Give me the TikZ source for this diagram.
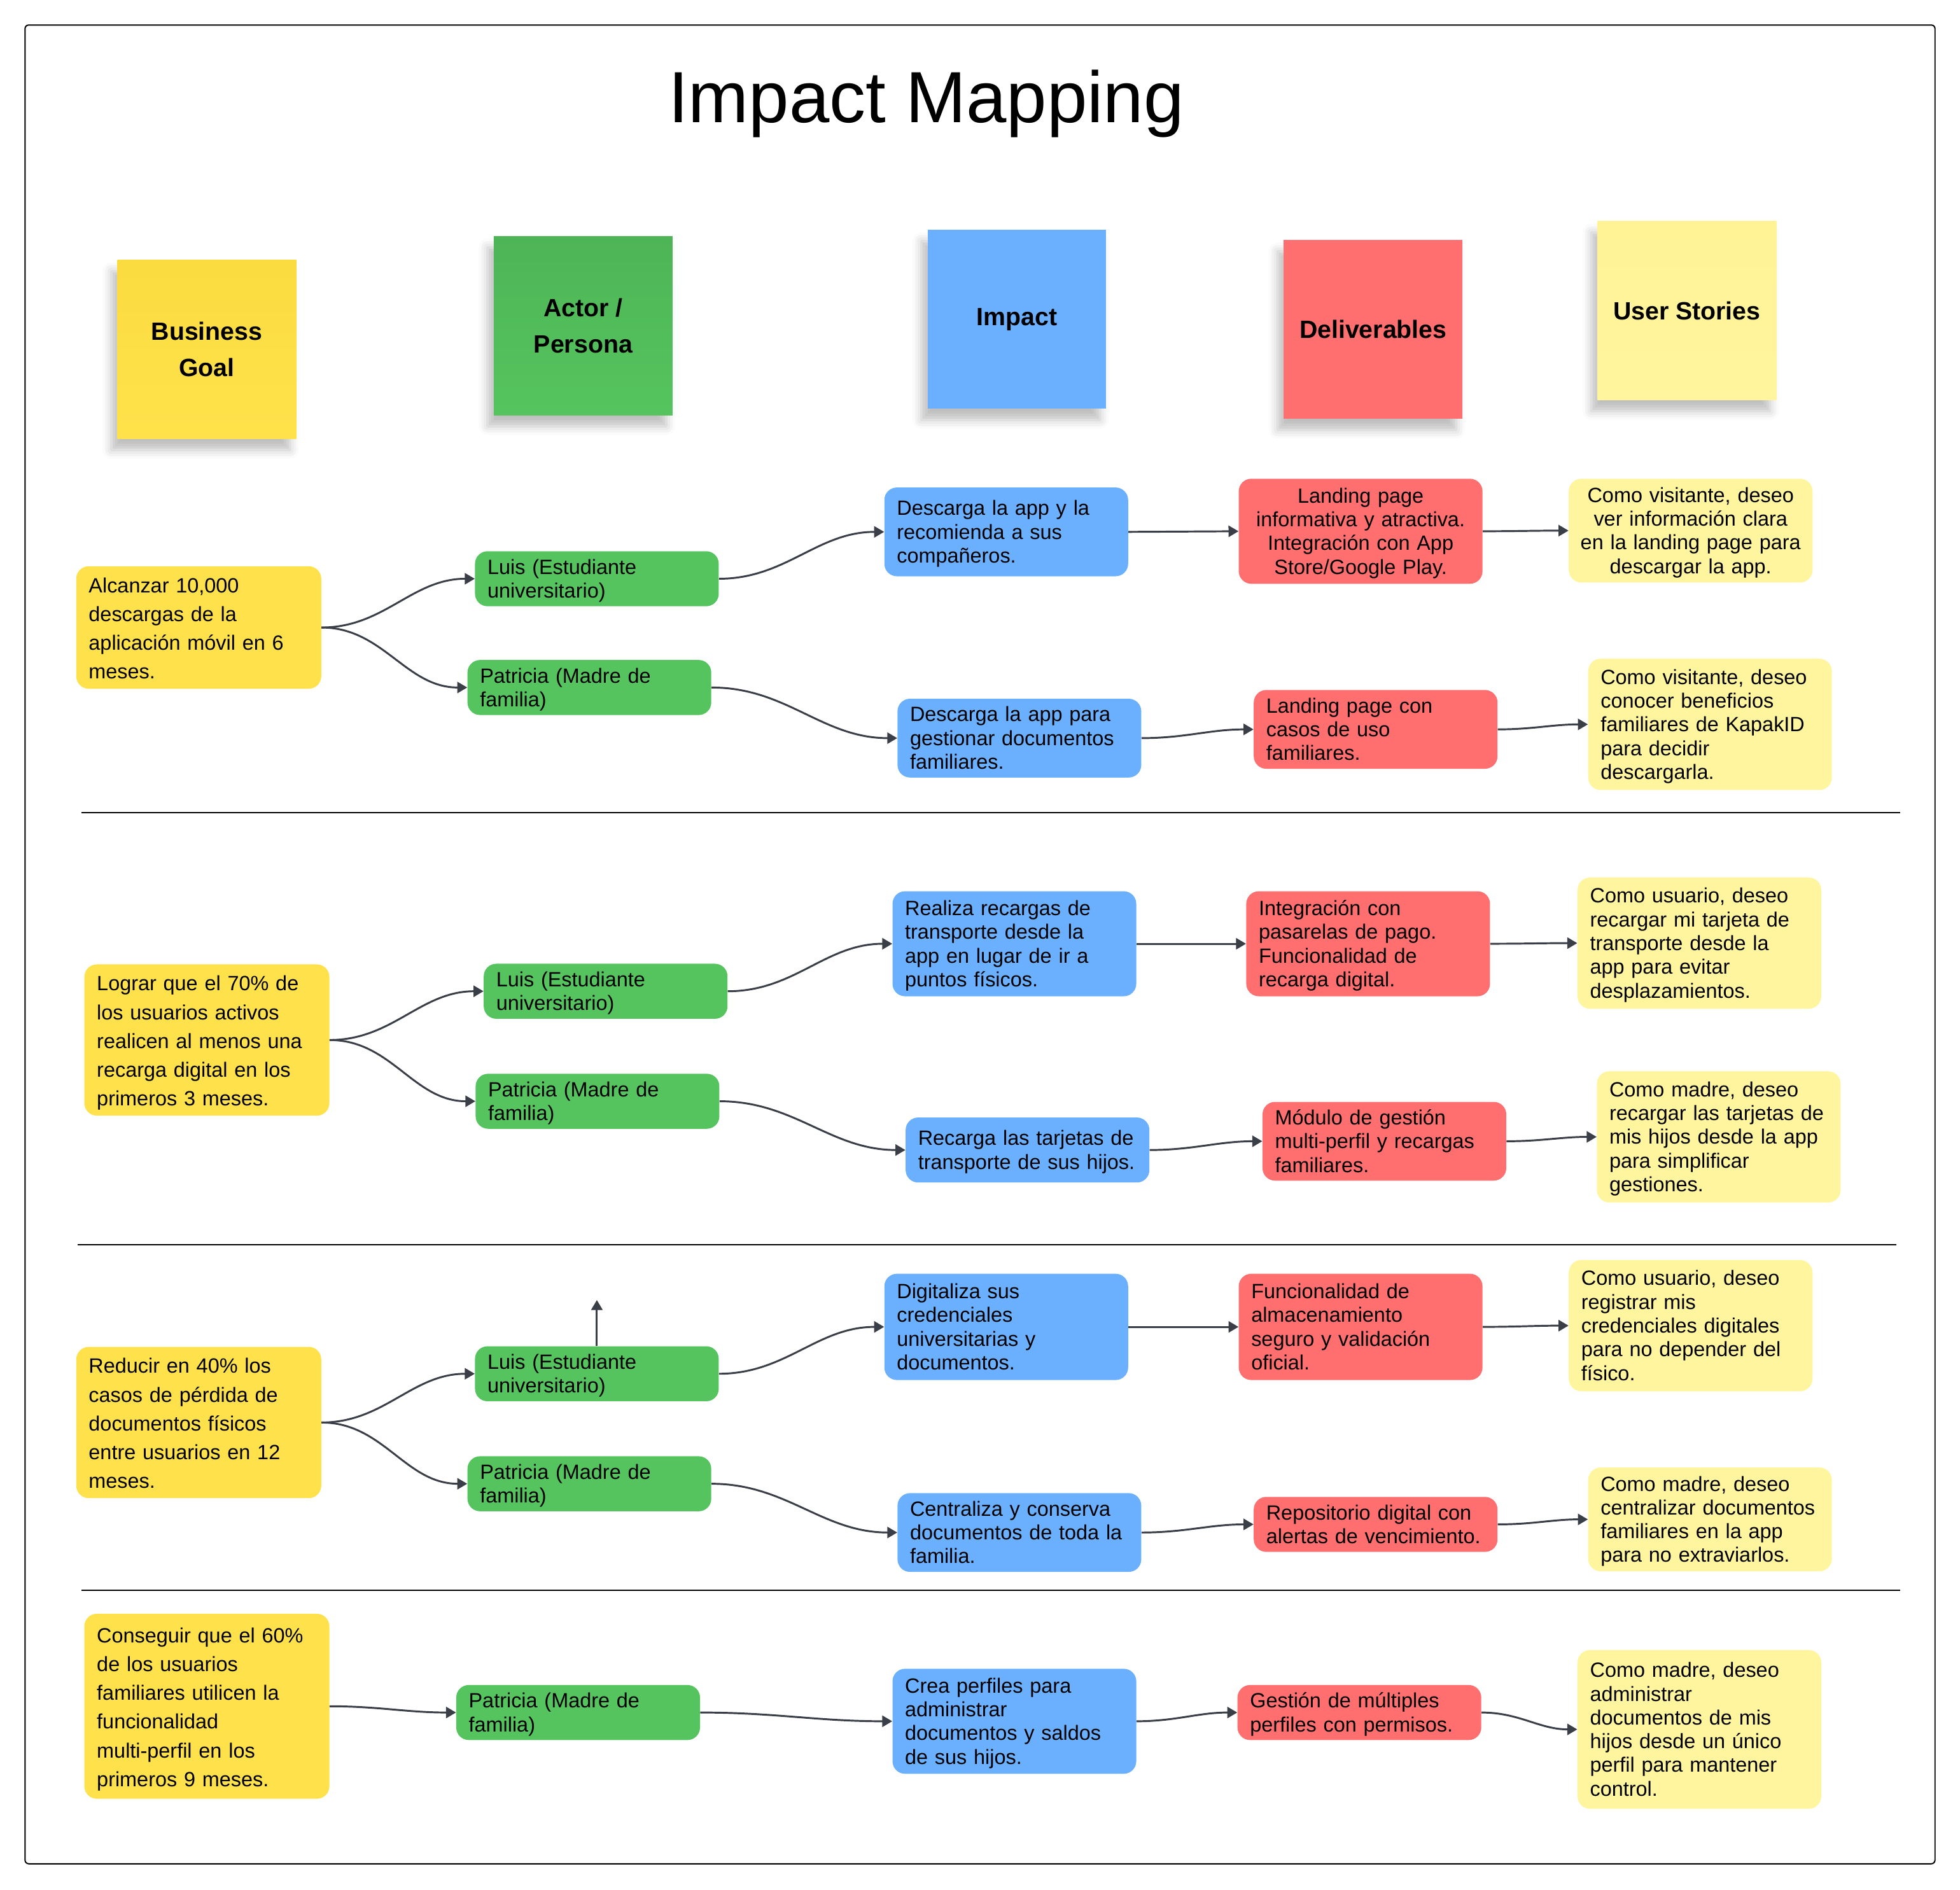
\documentclass[tikz,border=0pt]{standalone}
\usepackage{fontspec}
\setmainfont{Liberation Sans}
\usetikzlibrary{arrows.meta,shadows.blur}

\definecolor{goalc}{HTML}{FFE14B}
\definecolor{goaltop}{HTML}{FADC40}
\definecolor{actc}{HTML}{55C45E}
\definecolor{impc}{HTML}{6BB0FF}
\definecolor{delc}{HTML}{FF6F6F}
\definecolor{usc}{HTML}{FFF59E}
\definecolor{arrc}{HTML}{3A3E47}

\begin{document}
\begin{tikzpicture}
  [
   x=1pt, y=-1pt,
   ar/.style={-{Triangle[length=8pt,width=9pt]},line width=1.5pt,draw=arrc},
   sticky/.style={rectangle,minimum size=143pt,inner sep=0pt,align=center,
     font=\fontsize{20}{29}\selectfont\bfseries,
     blur shadow={shadow xshift=-5pt,shadow yshift=-9pt,shadow opacity=25,shadow blur radius=7pt}},
   gl/.style={rectangle,rounded corners=10pt,fill=goalc,text width=176pt,inner xsep=10pt,inner ysep=3pt,align=left,
     font=\fontsize{16.5}{23}\selectfont,execute at begin node=\rule{0pt}{18.1pt},execute at end node=\rule[-4.9pt]{0pt}{4.9pt}},
   ac/.style={rectangle,rounded corners=10pt,fill=actc,text width=175pt,inner xsep=10pt,inner ysep=3pt,align=left,
     font=\fontsize{16.5}{19}\selectfont,execute at begin node=\rule{0pt}{15.3pt},execute at end node=\rule[-3.7pt]{0pt}{3.7pt}},
   im/.style={rectangle,rounded corners=10pt,fill=impc,text width=175pt,inner xsep=10pt,inner ysep=3pt,align=left,
     font=\fontsize{16.5}{19}\selectfont,execute at begin node=\rule{0pt}{15.3pt},execute at end node=\rule[-3.7pt]{0pt}{3.7pt}},
   dl/.style={rectangle,rounded corners=10pt,fill=delc,text width=175pt,inner xsep=10pt,inner ysep=3pt,align=left,
     font=\fontsize{16.5}{19}\selectfont,execute at begin node=\rule{0pt}{15.3pt},execute at end node=\rule[-3.7pt]{0pt}{3.7pt}},
   us/.style={rectangle,rounded corners=10pt,fill=usc,text width=175pt,inner xsep=10pt,inner ysep=3pt,align=left,
     font=\fontsize{16.5}{19}\selectfont,execute at begin node=\rule{0pt}{15.3pt},execute at end node=\rule[-3.7pt]{0pt}{3.7pt}}
  ]
   \useasboundingbox (0,0) rectangle (1568,1511.5);
   \draw[line width=1pt,rounded corners=3pt] (20,20) rectangle (1548,1491);

   \node (title) at (741,83) {\fontsize{58}{62}\selectfont Impact Mapping};

   % column headers
   \node[sticky,top color=goaltop,bottom color=goalc] (hg) at (165.5,279.5) {Business\\Goal};
   \node[sticky,top color=actc!92!black,bottom color=actc] (ha) at (466.5,260.5) {Actor /\\Persona};
   \node[sticky,fill=impc] (hi) at (813.5,255.5) {Impact};
   \node[sticky,fill=delc] (hd) at (1098.5,263.5) {Deliverables};
   \node[sticky,top color=usc!90!goalc,bottom color=usc] (hu) at (1349.5,248.5) {User Stories};

   \foreach \ya/\xa/\xb in {650/65/1520,996/62/1517,1272/65/1520}
     \draw[line width=1pt] (\xa,\ya) -- (\xb,\ya);

   % row 1
   \node[gl] (g1) at (159,502) {Alcanzar 10,000\\descargas de la\\aplicación móvil en 6\\meses.};
   \node[ac] (a1) at (477.5,463) {Luis (Estudiante\\universitario)};
   \node[ac] (a2) at (471.5,550) {Patricia (Madre de\\familia)};
   \node[im,minimum height=71] (i1) at (805,425.5) {Descarga la app y la\\recomienda a sus\\compañeros.};
   \node[im] (i2) at (815.5,590.5) {Descarga la app para\\gestionar documentos\\familiares.};
   \node[dl,align=center,minimum height=84] (d1) at (1088.5,425) {Landing page\\informativa y atractiva.\\Integración con App\\Store/Google Play.};
   \node[dl] (d2) at (1100.5,583.5) {Landing page con\\casos de uso\\familiares.};
   \node[us,align=center,text width=187pt,inner xsep=4pt,minimum height=83] (u1) at (1352.5,424.5) {Como visitante, deseo\\ver información clara\\en la landing page para\\descargar la app.};
   \node[us,minimum height=105] (u2) at (1368,579.5) {Como visitante, deseo\\conocer beneficios\\familiares de KapakID\\para decidir\\descargarla.};

   \draw[ar] (g1.east) to[out=0,in=180] (a1.west);
   \draw[ar] (g1.east) to[out=0,in=180] (a2.west);
   \draw[ar] (a1.east) to[out=0,in=180] (i1.west);
   \draw[ar] (a2.east) to[out=0,in=180] (i2.west);
   \draw[ar] (i1.east) -- (d1.west);
   \draw[ar] (i2.east) to[out=0,in=180] (d2.west);
   \draw[ar] (d1.east) to[out=0,in=180] (u1.west);
   \draw[ar] (d2.east) to[out=0,in=180] (u2.west);

   % row 2
   \node[gl] (g2) at (165.5,832) {Lograr que el 70\% de\\los usuarios activos\\realicen al menos una\\recarga digital en los\\primeros 3 meses.};
   \node[ac] (a3) at (484.5,793) {Luis (Estudiante\\universitario)};
   \node[ac] (a4) at (478,881) {Patricia (Madre de\\familia)};
   \node[im,minimum height=84] (i3) at (811.5,755) {Realiza recargas de\\transporte desde la\\app en lugar de ir a\\puntos físicos.};
   \node[im,minimum height=52] (i4) at (822,920) {Recarga las tarjetas de\\transporte de sus hijos.};
   \node[dl,minimum height=84] (d3) at (1094.5,755) {Integración con\\pasarelas de pago.\\Funcionalidad de\\recarga digital.};
   \node[dl] (d4) at (1107.5,913) {Módulo de gestión\\multi-perfil y recargas\\familiares.};
   \node[us,minimum height=105] (u3) at (1359.5,754.5) {Como usuario, deseo\\recargar mi tarjeta de\\transporte desde la\\app para evitar\\desplazamientos.};
   \node[us,minimum height=105] (u4) at (1375,909.5) {Como madre, deseo\\recargar las tarjetas de\\mis hijos desde la app\\para simplificar\\gestiones.};

   \draw[ar] (g2.east) to[out=0,in=180] (a3.west);
   \draw[ar] (g2.east) to[out=0,in=180] (a4.west);
   \draw[ar] (a3.east) to[out=0,in=180] (i3.west);
   \draw[ar] (a4.east) to[out=0,in=180] (i4.west);
   \draw[ar] (i3.east) -- (d3.west);
   \draw[ar] (i4.east) to[out=0,in=180] (d4.west);
   \draw[ar] (d3.east) to[out=0,in=180] (u3.west);
   \draw[ar] (d4.east) to[out=0,in=180] (u4.west);

   % row 3
   \node[gl] (g3) at (159,1138) {Reducir en 40\% los\\casos de pérdida de\\documentos físicos\\entre usuarios en 12\\meses.};
   \node[ac] (a5) at (477.5,1099) {Luis (Estudiante\\universitario)};
   \node[ac] (a6) at (471.5,1187) {Patricia (Madre de\\familia)};
   \coordinate (up) at (477.5,1040);
   \node[im,minimum height=85] (i5) at (805,1061.5) {Digitaliza sus\\credenciales\\universitarias y\\documentos.};
   \node[im] (i6) at (815.5,1226) {Centraliza y conserva\\documentos de toda la\\familia.};
   \node[dl,minimum height=85] (d5) at (1088.5,1061.5) {Funcionalidad de\\almacenamiento\\seguro y validación\\oficial.};
   \node[dl] (d6) at (1100.5,1219.5) {Repositorio digital con\\alertas de vencimiento.};
   \node[us,minimum height=105] (u5) at (1352.5,1060.5) {Como usuario, deseo\\registrar mis\\credenciales digitales\\para no depender del\\físico.};
   \node[us,minimum height=83] (u6) at (1368,1215.5) {Como madre, deseo\\centralizar documentos\\familiares en la app\\para no extraviarlos.};

   \draw[ar] (g3.east) to[out=0,in=180] (a5.west);
   \draw[ar] (g3.east) to[out=0,in=180] (a6.west);
   \draw[ar] (a5.north) -- (up);
   \draw[ar] (a5.east) to[out=0,in=180] (i5.west);
   \draw[ar] (a6.east) to[out=0,in=180] (i6.west);
   \draw[ar] (i5.east) -- (d5.west);
   \draw[ar] (i6.east) to[out=0,in=180] (d6.west);
   \draw[ar] (d5.east) to[out=0,in=180] (u5.west);
   \draw[ar] (d6.east) to[out=0,in=180] (u6.west);

   % row 4
   \node[gl,minimum height=148] (g4) at (165.5,1365) {Conseguir que el 60\%\\de los usuarios\\familiares utilicen la\\funcionalidad\\multi-perfil en los\\primeros 9 meses.};
   \node[ac] (a7) at (462.5,1370) {Patricia (Madre de\\familia)};
   \node[im,minimum height=84] (i7) at (811.5,1377) {Crea perfiles para\\administrar\\documentos y saldos\\de sus hijos.};
   \node[dl] (d7) at (1087.5,1370) {Gestión de múltiples\\perfiles con permisos.};
   \node[us,minimum height=127] (u7) at (1359.5,1383.5) {Como madre, deseo\\administrar\\documentos de mis\\hijos desde un único\\perfil para mantener\\control.};

   \draw[ar] (g4.east) to[out=0,in=180] (a7.west);
   \draw[ar] (a7.east) to[out=0,in=180] (i7.west);
   \draw[ar] (i7.east) to[out=0,in=180] (d7.west);
   \draw[ar] (d7.east) to[out=0,in=180] (u7.west);

\end{tikzpicture}
\end{document}
